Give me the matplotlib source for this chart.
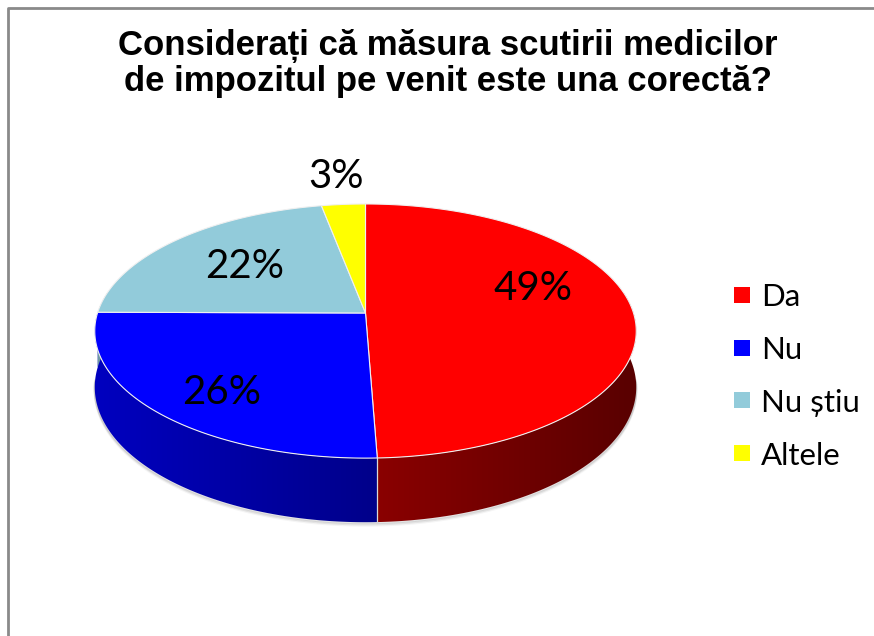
import numpy as np
import matplotlib
matplotlib.use("Agg")
import matplotlib.pyplot as plt
from matplotlib.patches import Polygon, Rectangle
from matplotlib import colors as mcolors

# ---------------- data ----------------
categories = ["Da", "Nu", "Nu știu", "Altele"]
values = [49.4, 25.7, 21.9, 3.0]          # shares (%), labels show rounded values
colors = ["#FF0000", "#0000FF", "#92CBDA", "#FFFF00"]
title_lines = ["Considerați că măsura scutirii medicilor",
               "de impozitul pe venit este una corectă?"]

# ---------------- layout ----------------
W, H = 874, 636
cx, cy = 365.5, 313.0     # pie centre (pixels)
R, Ry = 268.0, 124.5      # radii
k = 0.142                 # perspective strength
h = 55.0                  # thickness
lab_font = "Lato"
title_font = "Liberation Sans"

fig = plt.figure(figsize=(W / 100, H / 100), dpi=100)
ax = fig.add_axes([0, 0, 1, 1])
ax.set_xlim(0, W)
ax.set_ylim(H, 0)
ax.axis("off")

# frame
ax.plot([8, 8, W + 5], [H + 5, 7.5, 7.5], color="#8a8a8a", lw=2.0, solid_capstyle="butt")


def proj(theta, r, z):
    t = np.radians(theta)
    X = r * np.sin(t)
    D = r * np.cos(t)
    s = 1.0 / (1.0 + k * D)
    return cx + R * X * s, cy - Ry * D * s + z * h * s


total = float(sum(values))
bounds = np.concatenate([[0], np.cumsum(values)]) / total * 360.0

# soft shadow under the pie
for j, a in enumerate([0.10, 0.07, 0.04]):
    th = np.linspace(95, 265, 200)
    xs, ys = proj(th, 1, 1)
    ax.plot(xs, ys + 1.0 + j * 1.2, color="black", alpha=a, lw=1.6, zorder=0.5)

# side faces (front part) with horizontal shading gradient
xx = np.arange(W) + 0.5
shade = np.clip(0.55 - 0.2 * (xx - cx) / R, 0.3, 0.8)
for i in range(len(values)):
    a0, a1 = max(bounds[i], 80.0), min(bounds[i + 1], 280.0)
    if a1 <= a0:
        continue
    th = np.linspace(a0, a1, 200)
    xt, yt = proj(th, 1, 0)
    xb, yb = proj(th[::-1], 1, 1)
    pts = list(zip(xt, yt)) + list(zip(xb, yb))
    poly = Polygon(pts, closed=True, facecolor="none", edgecolor="none")
    ax.add_patch(poly)
    rgb = np.array(mcolors.to_rgb(colors[i]))
    img = np.ones((2, W, 3)) * (rgb[None, None, :] * shade[None, :, None])
    im = ax.imshow(img, extent=(0, W, H, 0), aspect="auto", interpolation="bilinear",
                   zorder=1)
    im.set_clip_path(poly)

# light separators on the side
for b in bounds[:-1]:
    if np.cos(np.radians(b)) < 0:
        xt, yt = proj(b, 1, 0)
        xb, yb = proj(b, 1, 1)
        ax.plot([xt, xb], [yt, yb], color="#d8d8d8", lw=0.9, zorder=2)

# top faces
for i in range(len(values)):
    a0, a1 = bounds[i], bounds[i + 1]
    th = np.linspace(a0, a1, max(3, int(a1 - a0) * 2))
    xs, ys = proj(th, 1, 0)
    pts = [(cx, cy)] + list(zip(xs, ys))
    ax.add_patch(Polygon(pts, closed=True, facecolor=colors[i], zorder=3,
                         edgecolor="#f0f0f0", lw=0.8, joinstyle="round"))

# percentage labels
label_pos = [(533, 288), (222, 392), (245, 267), (336, 177)]
for v, (x, y) in zip(values, label_pos):
    ax.text(x, y, f"{round(v)}%", fontsize=29, family=lab_font, ha="center",
            va="center", color="black", zorder=5)

# title
ax.text(448, 46, title_lines[0], fontsize=25, fontweight="bold", family=title_font,
        ha="center", va="center")
ax.text(448, 82, title_lines[1], fontsize=25, fontweight="bold", family=title_font,
        ha="center", va="center")

# legend (manual)
leg_x, leg_y0, leg_dy, sq = 734, 295, 52.7, 16
for i, (name, c) in enumerate(zip(categories, colors)):
    y = leg_y0 + i * leg_dy
    ax.add_patch(Rectangle((leg_x, y - sq / 2), sq, sq, facecolor=c, edgecolor="none"))
    ax.text(leg_x + sq + 11, y, name, fontsize=22.5, family=lab_font, ha="left",
            va="center_baseline", color="black")

fig.savefig("out.png", dpi=100)
